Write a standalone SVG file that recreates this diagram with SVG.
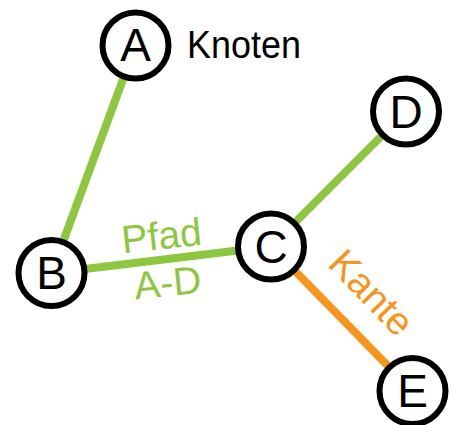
<svg xmlns="http://www.w3.org/2000/svg" width="453" height="425" viewBox="0 0 453 425">
<style>
.node circle{fill:#fff;stroke:#000;stroke-width:6}
.node text{font-family:"Liberation Sans",Arial,sans-serif;font-size:46px;text-anchor:middle;fill:#000}
.lbl{font-family:"Liberation Sans",Arial,sans-serif;font-size:39px}
.g{stroke:#8dc63f;stroke-width:8;fill:none}
.o{stroke:#f7941d;stroke-width:8;fill:none}
</style>
<rect width="453" height="425" fill="#fff"/>
<g id="connectors">
<line class="g" x1="135.5" y1="45.5" x2="51.5" y2="273"/>
<line class="g" x1="51.5" y1="273" x2="271" y2="246.5"/>
<line class="g" x1="271" y1="246.5" x2="406" y2="111.5"/>
<line class="o" x1="271" y1="246.5" x2="412.5" y2="391"/>
</g>
<g id="labels">
<text class="lbl" x="163" y="249" fill="#8dc63f" text-anchor="middle" transform="rotate(-6 163 249)">Pfad</text>
<text class="lbl" x="169" y="296" fill="#8dc63f" text-anchor="middle" transform="rotate(-6 169 296)">A-D</text>
<text class="lbl" x="362" y="302" fill="#f7941d" text-anchor="middle" transform="rotate(46 362 302)">Kante</text>
<text class="lbl" x="187" y="58" fill="#000" font-size="43" textLength="114" lengthAdjust="spacingAndGlyphs">Knoten</text>
</g>
<g id="A" class="node"><circle cx="135.5" cy="45.5" r="33"/><text x="135.5" y="61">A</text></g>
<g id="B" class="node"><circle cx="51.5" cy="273" r="33"/><text x="51.5" y="289">B</text></g>
<g id="C" class="node"><circle cx="271" cy="246.5" r="33"/><text x="271" y="263">C</text></g>
<g id="D" class="node"><circle cx="406" cy="111.5" r="33"/><text x="406" y="128">D</text></g>
<g id="E" class="node"><circle cx="412.5" cy="391" r="33"/><text x="412.5" y="407">E</text></g>
</svg>
